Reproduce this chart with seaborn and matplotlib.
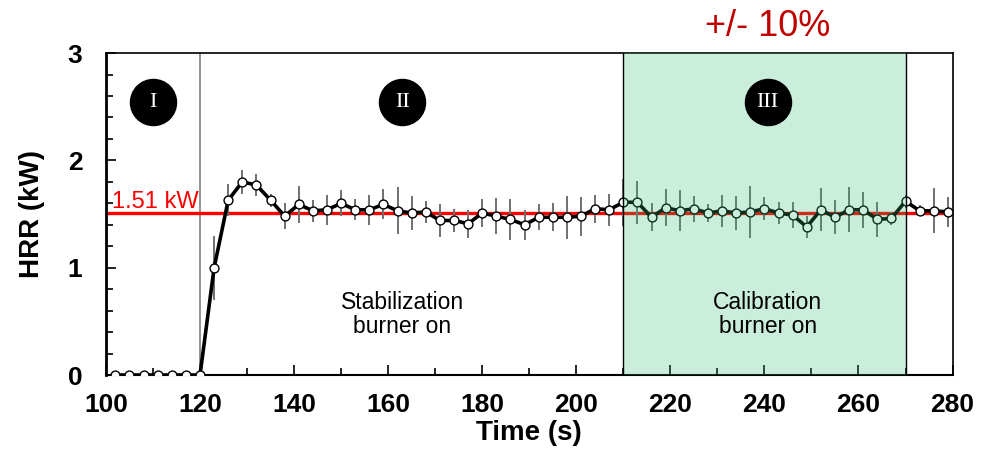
import numpy as np
import pandas as pd
import matplotlib
matplotlib.use("Agg")
import matplotlib.pyplot as plt
import seaborn as sns

# time (s) and heat release rate (kW) with error bar half-widths
time_s = list(range(102, 280, 3))
hrr = [0, 0, 0, 0, 0, 0, 0,
       1.00, 1.63, 1.80, 1.77, 1.63, 1.48, 1.59, 1.53, 1.54, 1.60,
       1.54, 1.54, 1.59, 1.53, 1.51, 1.52, 1.44, 1.44, 1.41, 1.51,
       1.48, 1.45, 1.40, 1.47, 1.47, 1.47, 1.48, 1.55, 1.54, 1.61,
       1.61, 1.47, 1.56, 1.53, 1.55, 1.51, 1.53, 1.51, 1.52, 1.55,
       1.51, 1.49, 1.38, 1.54, 1.47, 1.54, 1.54, 1.45, 1.46, 1.62,
       1.53, 1.53, 1.52]
err = [0, 0, 0, 0, 0, 0, 0,
       0.30, 0.15, 0.11, 0.10, 0.06, 0.12, 0.17, 0.10, 0.14, 0.12,
       0.10, 0.14, 0.14, 0.22, 0.16, 0.10, 0.15, 0.11, 0.13, 0.13,
       0.17, 0.19, 0.14, 0.12, 0.13, 0.20, 0.18, 0.13, 0.15, 0.22,
       0.20, 0.13, 0.17, 0.19, 0.12, 0.08, 0.15, 0.16, 0.24, 0.11,
       0.10, 0.12, 0.10, 0.20, 0.16, 0.21, 0.17, 0.16, 0.06, 0.06,
       0.05, 0.21, 0.14]

mean_hrr = 1.51
mean_label = "1.51 kW"
phase_labels = ["I", "II", "III"]
phase_x = [110, 163, 240.7]
phase_y = 2.54
burner_start = 120
calib_start, calib_end = 210, 270
notes = ["Stabilization\nburner on", "Calibration\nburner on"]
notes_x = [163, 240.7]
notes_y = 0.56

df = pd.DataFrame({"Time": time_s, "HRR": hrr, "err": err})

sns.set_style("ticks")
plt.rcParams["font.family"] = ["Liberation Sans", "DejaVu Sans"]
plt.rcParams["text.color"] = "black"
plt.rcParams["axes.labelcolor"] = "black"

fig = plt.figure(figsize=(9.81, 4.54), dpi=100)
ax = fig.add_axes([0.108, 0.174, 0.863, 0.709])

# red reference line
ax.axhline(mean_hrr, color="#ff0000", lw=2.4, zorder=2)
ax.text(101.2, mean_hrr + 0.05, mean_label, color="#ff0000", fontsize=17,
        ha="left", va="baseline", zorder=3)

# burner-on marker
ax.axvline(burner_start, color="#808080", lw=1.2, zorder=1)

# error bars
ax.errorbar(df["Time"], df["HRR"], yerr=df["err"], fmt="none",
            ecolor="#707070", elinewidth=1.4, capsize=0, zorder=3)

# main curve
sns.lineplot(data=df, x="Time", y="HRR", ax=ax, color="black", lw=2.6,
             marker="o", markersize=6.4, markerfacecolor="white",
             markeredgecolor="black", markeredgewidth=1.0, zorder=4)

# calibration window (overlay)
ax.axvspan(calib_start, calib_end, facecolor="#2cbc70", alpha=0.25,
           edgecolor="none", zorder=5)
ax.axvline(calib_start, color="black", lw=1.0, zorder=6)
ax.axvline(calib_end, color="black", lw=1.0, zorder=6)

# phase circles
ax.scatter(phase_x, [phase_y] * 3, s=1100, color="black", zorder=7)
for px, lab in zip(phase_x, phase_labels):
    ax.text(px, phase_y, lab, color="white", fontsize=16,
            family=["Liberation Serif", "DejaVu Serif"],
            ha="center", va="center", zorder=8)

for nx, note in zip(notes_x, notes):
    ax.text(nx, notes_y, note, fontsize=16.5, color="black", ha="center",
            va="center", linespacing=1.05, zorder=8)

ax.text(240.7, 3.25, "+/- 10%", color="#c00000", fontsize=26,
        ha="center", va="center", clip_on=False)

ax.set_xlim(100, 280)
ax.set_ylim(0, 3)
ax.set_xticks(range(100, 281, 20))
ax.set_xticks(range(110, 280, 20), minor=True)
ax.set_yticks([0, 1, 2, 3])
ax.set_yticks(np.arange(0.2, 3, 0.2), minor=True)
ax.tick_params(which="both", direction="in", width=1.2, colors="black",
               top=False, right=False)
ax.tick_params(which="major", length=7, labelsize=19)
ax.tick_params(axis="x", which="major", pad=13)
ax.tick_params(axis="y", which="major", pad=17)
ax.tick_params(which="minor", length=5)
for lab in ax.get_xticklabels() + ax.get_yticklabels():
    lab.set_fontweight("bold")

ax.set_xlabel("Time (s)", fontsize=20, fontweight="bold", labelpad=2)
ax.set_ylabel("HRR (kW)", fontsize=20, fontweight="bold", labelpad=16)

for sp in ax.spines.values():
    sp.set_visible(True)
    sp.set_color("black")
    sp.set_linewidth(1.2)
ax.spines["left"].set_linewidth(2)
ax.spines["bottom"].set_linewidth(1.5)

plt.savefig("out.png", dpi=100)
plt.close()
